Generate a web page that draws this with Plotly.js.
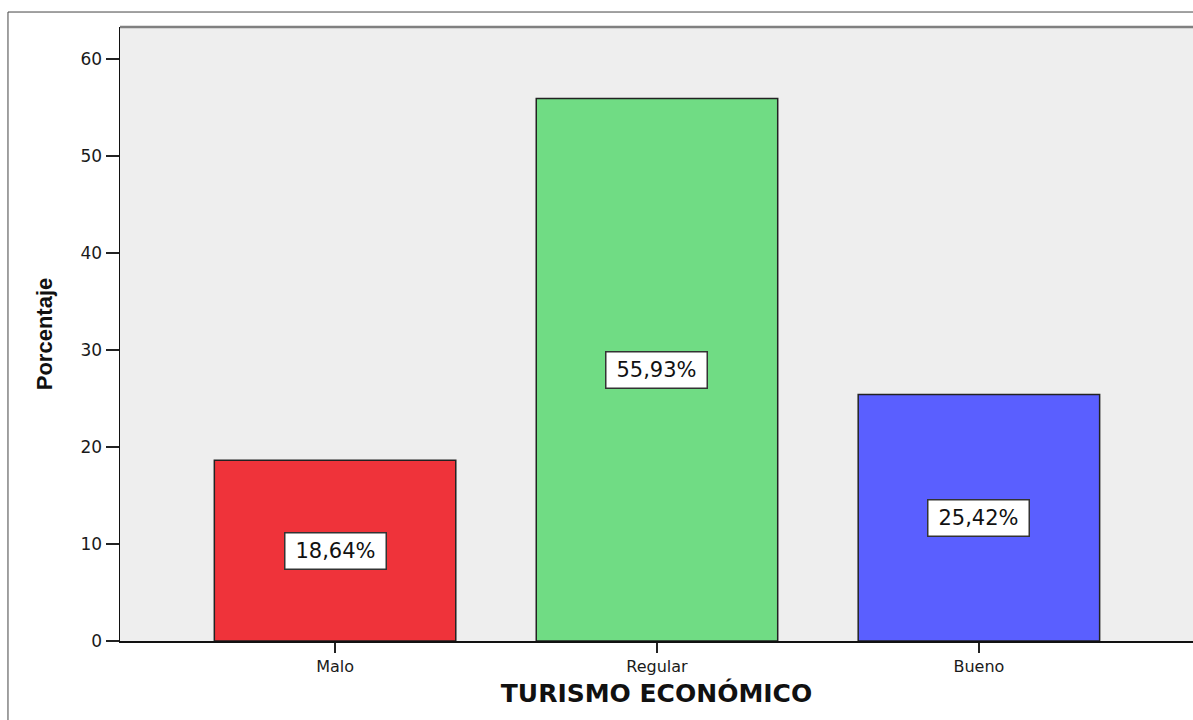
<!DOCTYPE html>
<html>
<head>
<meta charset="utf-8">
<script src="https://cdn.plot.ly/plotly-3.0.1.min.js"></script>
<style>
html,body{margin:0;padding:0;background:#fff;}
#chart{width:1193px;height:720px;}
</style>
</head>
<body>
<div id="chart"></div>
<script>
const categories = ["Malo", "Regular", "Bueno"];
const values = [18.64, 55.93, 25.42];
const barColors = ["#EF333A", "#70DC84", "#5A5FFF"];
const yTicks = [0, 10, 20, 30, 40, 50, 60];
const xTitle = "TURISMO ECONÓMICO";
const yTitle = "Porcentaje";

const labels = values.map(v => v.toFixed(2).replace('.', ',') + '%');

const trace = {
  type: 'bar',
  x: categories,
  y: values,
  marker: {color: barColors, line: {color: '#222222', width: 1.5}},
  hoverinfo: 'none'
};

const annotations = categories.map((c, i) => ({
  x: c, y: values[i] / 2, xref: 'x', yref: 'y',
  text: labels[i], showarrow: false,
  font: {family: 'DejaVu Sans', size: 21, color: '#111'},
  bgcolor: '#ffffff', bordercolor: '#333333', borderwidth: 1.5, borderpad: 3,
  width: 94, height: 29
}));

const layout = {
  width: 1193, height: 720,
  margin: {l: 120, r: 0, t: 27, b: 79},
  paper_bgcolor: '#ffffff',
  plot_bgcolor: '#EEEEEE',
  showlegend: false,
  bargap: 0.25,
  xaxis: {
    type: 'category',
    range: [-0.668, 2.665],
    showline: true, linecolor: '#111', linewidth: 1.5,
    ticks: 'outside', ticklen: 10, tickwidth: 2, tickcolor: '#222',
    tickfont: {family: 'DejaVu Sans', size: 16, color: '#1a1a1a'},
    showgrid: false, zeroline: false,
    title: {text: xTitle, font: {family: 'DejaVu Sans', size: 25, color: '#111', weight: 'bold'}, standoff: 10}
  },
  yaxis: {
    range: [0, 63.3],
    tickvals: yTicks,
    showline: true, linecolor: '#111', linewidth: 1.5,
    ticks: 'outside', ticklen: 13, tickwidth: 2, tickcolor: '#222',
    tickfont: {family: 'DejaVu Sans', size: 17, color: '#1a1a1a'},
    showgrid: false, zeroline: false,
    title: {text: yTitle, font: {family: 'Liberation Sans', size: 22, color: '#111', weight: 'bold'}, standoff: 22}
  },
  annotations: annotations,
  shapes: [
    {type: 'line', xref: 'paper', yref: 'paper', x0: 0, x1: 1, y0: 1, y1: 1,
     line: {color: '#808080', width: 2.5}},
    {type: 'rect', xref: 'paper', yref: 'paper', x0: -0.1044, x1: 1.01, y0: -0.3, y1: 1.0244,
     line: {color: '#444444', width: 1}, fillcolor: 'rgba(0,0,0,0)', layer: 'below'}
  ]
};

Plotly.newPlot('chart', [trace], layout, {displayModeBar: false, staticPlot: true});
</script>
</body>
</html>
